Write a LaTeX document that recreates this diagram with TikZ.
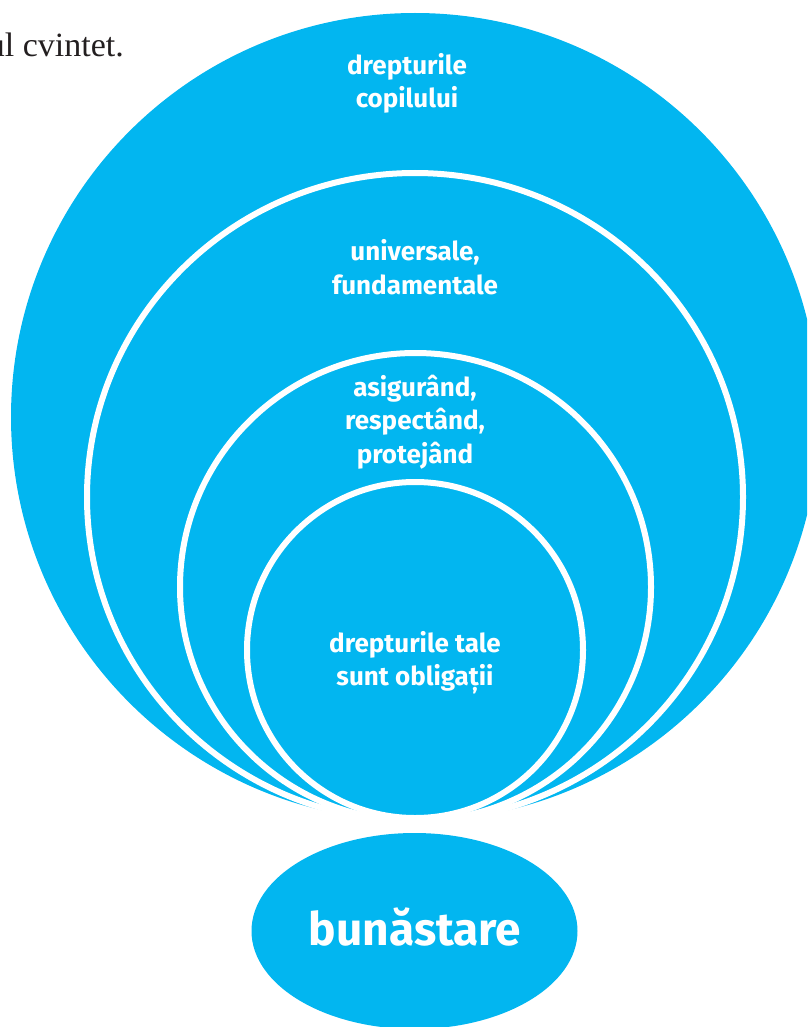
\documentclass[tikz,border=0pt]{standalone}
\usepackage{fontspec}
\newfontfamily\labfont{Fira Sans}
\newfontfamily\serifont{Liberation Serif}
\definecolor{skyblue}{RGB}{2,182,240}
\definecolor{inkgray}{RGB}{35,31,32}
\begin{document}
\begin{tikzpicture}[x=1pt,y=-1pt,
  ring/.style={fill=skyblue, draw=white, line width=6pt},
  lab/.style={text=white, align=center, inner sep=0pt, font=\labfont\bfseries\fontsize{26}{33.5}\selectfont},
  big/.style={text=white, inner sep=0pt, font=\labfont\bfseries\fontsize{46}{50}\selectfont}]
\useasboundingbox (0,0) rectangle (807,1027);
\begin{scope}
\clip (0,0) rectangle (807,1027);
% nested circles, largest first
\path[fill=skyblue] (415,417) circle[radius=404];
\draw[ring] (415,497) circle[x radius=328, y radius=324];
\draw[ring] (415.5,587) circle[x radius=235.5, y radius=234];
\draw[ring] (415,650) circle[radius=168];
% bottom ellipse
\path[fill=skyblue] (414.5,931) circle[x radius=163, y radius=98];
\end{scope}
\node[lab] (t1) at (407,83.5) {drepturile\\copilului};
\node[lab] (t2) at (415,267) {universale,\\fundamentale};
\node[lab] (t3) at (415,422) {asigurând,\\respectând,\\protejând};
\node[lab] (t4) at (415,662.5) {drepturile tale\\sunt obligații};
\node[big, anchor=base] (t5) at (415,945) {bunăstare};
\node[inner sep=0pt, anchor=base east, text=inkgray, font=\serifont\fontsize{34}{40}\selectfont] (t0) at (124,57) {ul cvintet.};
\end{tikzpicture}
\end{document}
